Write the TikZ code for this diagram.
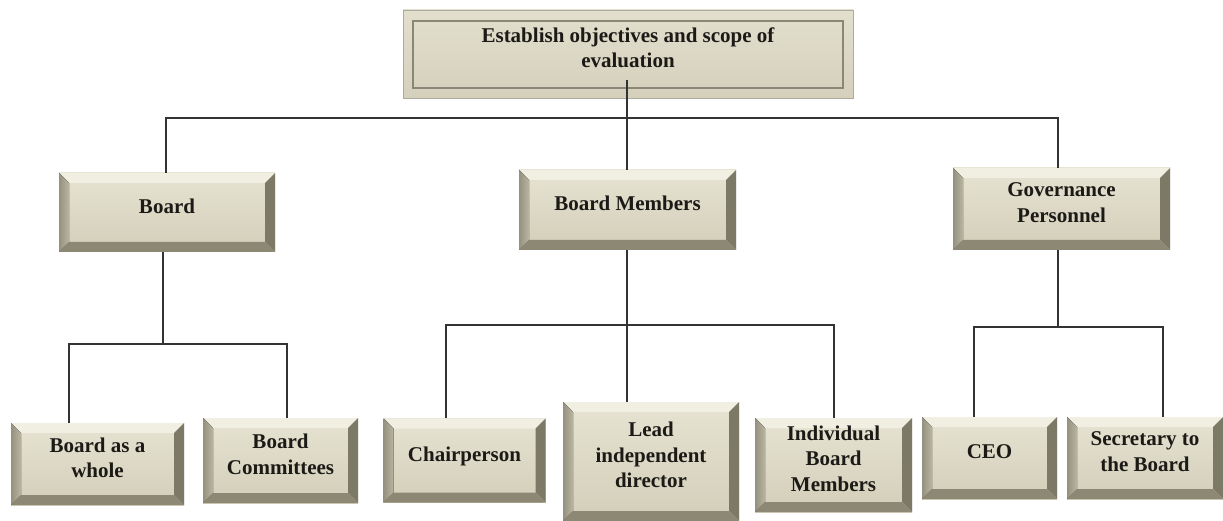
\documentclass[tikz,border=0pt]{standalone}
\usepackage{fontspec}
\setmainfont{Liberation Serif}
\definecolor{faceT}{HTML}{E6E3D2}
\definecolor{faceB}{HTML}{D2CEB9}
\definecolor{bevT}{HTML}{F1EFE2}
\definecolor{bevL}{HTML}{B9B5A0}
\definecolor{bevR}{HTML}{7C7967}
\definecolor{bevB}{HTML}{8C8874}
\definecolor{linec}{HTML}{333333}
\definecolor{textc}{HTML}{1C1A16}
\definecolor{frameT}{HTML}{E2DFCD}
\definecolor{frameB}{HTML}{D4D0BC}
\definecolor{framec}{HTML}{8A8777}
\newcommand{\bw}{10pt}
\tikzset{
  labelfont/.style={font=\fontsize{21}{25.5}\selectfont\bfseries, text=textc},
  bevbox/.style={rectangle, inner sep=0pt, align=center, labelfont,
    top color=faceT, bottom color=faceB, text depth=13pt,
    path picture={
      % top bevel
      \fill[bevT] (path picture bounding box.north west) -- (path picture bounding box.north east)
        -- ([xshift=-\bw,yshift=-\bw]path picture bounding box.north east)
        -- ([xshift=\bw,yshift=-\bw]path picture bounding box.north west) -- cycle;
      % left bevel
      \fill[left color=bevL!80!black, right color=bevL] (path picture bounding box.north west)
        -- ([xshift=\bw,yshift=-\bw]path picture bounding box.north west)
        -- ([xshift=\bw,yshift=\bw]path picture bounding box.south west)
        -- (path picture bounding box.south west) -- cycle;
      % right bevel
      \fill[bevR] (path picture bounding box.north east)
        -- ([xshift=-\bw,yshift=-\bw]path picture bounding box.north east)
        -- ([xshift=-\bw,yshift=\bw]path picture bounding box.south east)
        -- (path picture bounding box.south east) -- cycle;
      % bottom bevel
      \fill[bevB] (path picture bounding box.south west)
        -- ([xshift=\bw,yshift=\bw]path picture bounding box.south west)
        -- ([xshift=-\bw,yshift=\bw]path picture bounding box.south east)
        -- (path picture bounding box.south east) -- cycle;
    }},
  framebox/.style={rectangle, inner sep=0pt, align=center, labelfont,
    top color=frameT, bottom color=frameB, draw=framec!70, line width=0.8pt,
    text depth=13pt,
    path picture={
      \draw[framec, line width=1.3pt]
        ([xshift=10pt,yshift=-11pt]path picture bounding box.north west) rectangle
        ([xshift=-10pt,yshift=10pt]path picture bounding box.south east);
    }},
  conn/.style={draw=linec, line width=1.8pt}
}
\begin{document}
\begin{tikzpicture}[x=1pt,y=-1pt]
\useasboundingbox[fill=white] (0,0) rectangle (1223,521);

% root
\node[framebox, minimum width=450pt, minimum height=88pt] (top) at (628,54)
  {Establish objectives and scope of\\evaluation};

% second level
\node[bevbox, minimum width=216pt, minimum height=79pt] (board) at (167,212.5) {Board};
\node[bevbox, minimum width=217pt, minimum height=80pt] (bm) at (627.5,210) {Board Members};
\node[bevbox, minimum width=217pt, minimum height=82pt] (gov) at (1061.5,209) {Governance\\Personnel};

% third level
\node[bevbox, minimum width=173pt, minimum height=82pt] (bw) at (97.5,464) {Board as a\\whole};
\node[bevbox, minimum width=155pt, minimum height=85pt] (bc) at (280.5,460.5) {Board\\Committees};
\node[bevbox, minimum width=162pt, minimum height=84pt] (chair) at (464.5,460.5) {Chairperson};
\node[bevbox, minimum width=176pt, minimum height=119pt] (lead) at (651,461.5) {Lead\\independent\\director};
\node[bevbox, minimum width=157pt, minimum height=94pt] (ibm) at (833.5,465) {Individual\\Board\\Members};
\node[bevbox, minimum width=135pt, minimum height=82pt] (ceo) at (989.5,458) {CEO};
\node[bevbox, minimum width=156pt, minimum height=82pt] (sec) at (1145,458) {Secretary to\\the Board};

% bus points
\coordinate (stem) at (627,80);
\coordinate (busL) at (166,118);
\coordinate (busR) at (1058,118);
\coordinate (bstem) at (163,344);
\coordinate (bL) at (69,344);
\coordinate (bR) at (287,344);
\coordinate (mstem) at (627,325);
\coordinate (mL) at (446,325);
\coordinate (mR) at (834,325);
\coordinate (gstem) at (1058,327);
\coordinate (gL) at (974,327);
\coordinate (gR) at (1163,327);

% root to second level
\draw[conn] (stem) -- (stem |- bm.north);
\draw[conn] (busL |- board.north) -- (busL) -- (busR) -- (busR |- gov.north);

% board branch
\draw[conn] (bstem |- board.south) -- (bstem);
\draw[conn] (bL |- bw.north) -- (bL) -- (bR) -- (bR |- bc.north);

% board members branch
\draw[conn] (mstem |- bm.south) -- (mstem |- lead.north);
\draw[conn] (mL |- chair.north) -- (mL) -- (mR) -- (mR |- ibm.north);

% governance branch
\draw[conn] (gstem |- gov.south) -- (gstem);
\draw[conn] (gL |- ceo.north) -- (gL) -- (gR) -- (gR |- sec.north);
\end{tikzpicture}
\end{document}
